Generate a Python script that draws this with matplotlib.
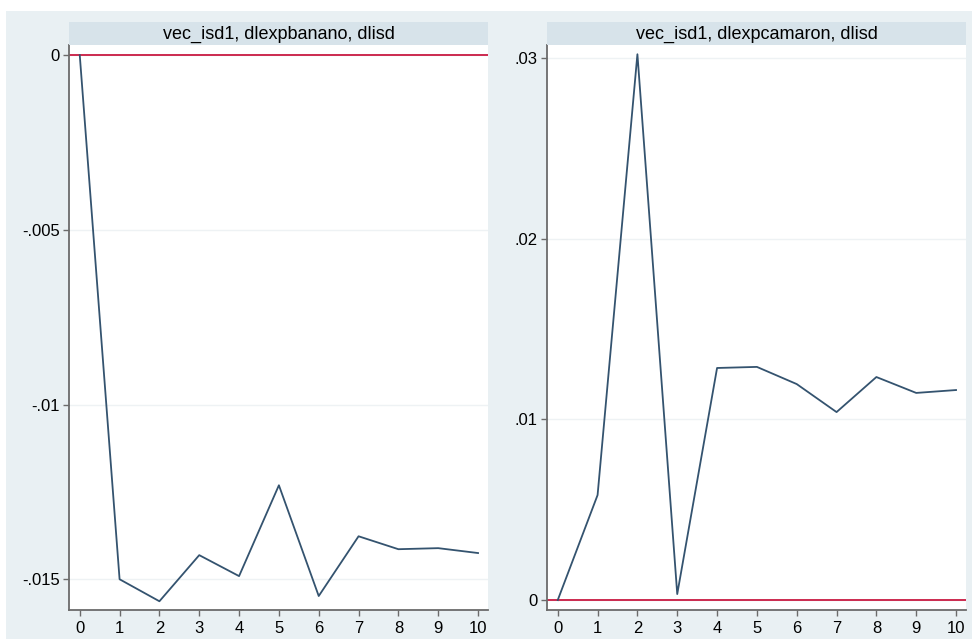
import matplotlib.pyplot as plt
from matplotlib.patches import Rectangle

plt.rcParams['font.family'] = ['Liberation Sans', 'DejaVu Sans']

# impulse response steps and values
steps = [0, 1, 2, 3, 4, 5, 6, 7, 8, 9, 10]
banano = [0.0, -0.01500, -0.01563, -0.01431, -0.01491, -0.01231,
          -0.01548, -0.01377, -0.01414, -0.01411, -0.01425]
camaron = [0.0, 0.00581, 0.03020, 0.00033, 0.01284, 0.01290,
           0.01195, 0.01040, 0.01234, 0.01146, 0.01162]

titles = ["vec_isd1, dlexpbanano, dlisd", "vec_isd1, dlexpcamaron, dlisd"]
yticks = [[0, -0.005, -0.01, -0.015], [0, 0.01, 0.02, 0.03]]
yticklabels = [["0", "-.005", "-.01", "-.015"], ["0", ".01", ".02", ".03"]]
ylims = [(-0.01588, 0.00029), (-0.00055, 0.03071)]

W, H = 972, 639
fig = plt.figure(figsize=(W / 100, H / 100), dpi=100, facecolor="white")

# outer graph region (behind the panels)
fig.patches.append(Rectangle((6 / W, 0), (W - 6) / W, (H - 11) / H,
                             transform=fig.transFigure, facecolor="#e9f0f3",
                             edgecolor="none", zorder=-10))

panel_left = [69, 547]
panel_w = 419
line_col = "#34536f"
red = "#cc2a4f"

for i, series in enumerate([banano, camaron]):
    x0 = panel_left[i] / W
    ax = fig.add_axes((x0, 1 - 610 / H, panel_w / W, 565 / H))
    ax.set_facecolor("white")
    ax.plot(steps, series, color=line_col, lw=1.3, zorder=3)
    ax.axhline(0, color=red, lw=1.4, zorder=2)
    ax.set_xlim(-0.27, 10.25)
    ax.set_ylim(*ylims[i])
    ax.set_xticks(steps)
    ax.set_yticks(yticks[i])
    ax.set_yticklabels(yticklabels[i])
    for t in yticks[i]:
        ax.axhline(t, color="#eef2f4", lw=1.0, zorder=1)
    for s in ["top", "right"]:
        ax.spines[s].set_visible(False)
    for s in ["left", "bottom"]:
        ax.spines[s].set_color("#6b6b6b")
        ax.spines[s].set_linewidth(1.3)
    ax.tick_params(colors="#6b6b6b", labelcolor="black", labelsize=12,
                   length=4.5, width=1.0, direction="out")
    ax.tick_params(axis="y", pad=2)

    # header strip with the panel title
    hax = fig.add_axes((x0, 1 - 45 / H, panel_w / W, 23 / H))
    hax.set_facecolor("#d7e3ea")
    hax.set_xticks([])
    hax.set_yticks([])
    for s in hax.spines.values():
        s.set_visible(False)
    hax.text(0.5, 0.45, titles[i], ha="center", va="center", fontsize=13,
             transform=hax.transAxes)

fig.savefig("out.png", dpi=100, facecolor="white")
